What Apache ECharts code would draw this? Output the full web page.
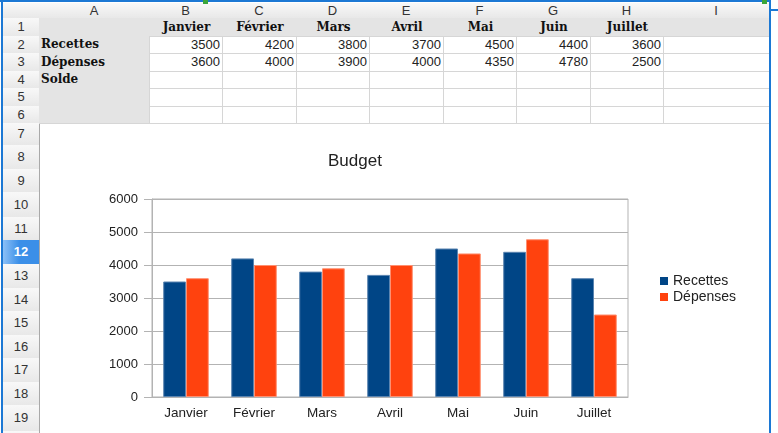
<!DOCTYPE html>
<html>
<head>
<meta charset="utf-8">
<title>Budget</title>
<script src="https://cdn.jsdelivr.net/npm/echarts@6/dist/echarts.min.js"></script>
<style>
  body { margin: 0; background: #fff; }
  #sheet { position: relative; width: 778px; height: 433px; overflow: hidden; font-family: "Liberation Sans", Arial, sans-serif; background: #fff; }
  .c { position: absolute; box-sizing: border-box; border-right: 1px solid #d6d6d6; border-bottom: 1px solid #d6d6d6;
       font-size: 13px; color: #222; white-space: nowrap; overflow: hidden; }
  .hd { background: linear-gradient(#f8f8f8, #e8e8e8); border-right-color: #a9a9a9; border-bottom-color: #a9a9a9; text-align: center; color: #333; }
  .gray { background: #e4e4e4; }
  .lbl { font-family: "DejaVu Serif", serif; font-weight: bold; font-size: 12px; color: #111; padding-left: 2px; }
  .num { text-align: right; padding-right: 2px; }
  .sel { background: linear-gradient(90deg, #8cc0f6, #3b8fe8 45%); color: #fff; font-weight: bold; }
  #chart { position: absolute; left: 40px; top: 124px; width: 729px; height: 309px; background: #fff; }
  .blue { position: absolute; background: #1c78d4; }
</style>
</head>
<body>
<div id="sheet">
  <div id="chart"></div>
</div>
<script>
// données du tableau
const colLetters = ['A', 'B', 'C', 'D', 'E', 'F', 'G', 'H', 'I'];
const months = ['Janvier', 'Février', 'Mars', 'Avril', 'Mai', 'Juin', 'Juillet'];
const recettes = [3500, 4200, 3800, 3700, 4500, 4400, 3600];
const depenses = [3600, 4000, 3900, 4000, 4350, 4780, 2500];
const rowLabels = ['', 'Recettes', 'Dépenses', 'Solde', '', ''];

// géométrie de la feuille (bords des colonnes / lignes en px)
const colX = [3, 39, 149, 222, 296, 369, 443, 516, 590, 663, 769];
const rowY = [3, 18, 36, 53, 71, 88, 106, 123, 145, 169, 192, 217, 240, 264, 288, 311, 335, 358, 382, 405, 431, 455];
const selectedRow = 12;

const sheet = document.getElementById('sheet');
const chartEl = document.getElementById('chart');

function cell(x0, y0, x1, y1, cls, text) {
  const d = document.createElement('div');
  d.className = 'c ' + cls;
  d.style.left = x0 + 'px'; d.style.top = y0 + 'px';
  d.style.width = (x1 - x0 + 1) + 'px'; d.style.height = (y1 - y0 + 1) + 'px';
  d.style.lineHeight = (y1 - y0) + 'px';
  if (text !== undefined) d.textContent = text;
  sheet.insertBefore(d, chartEl);
  return d;
}

// en-têtes de colonnes
cell(colX[0], rowY[0], colX[1], rowY[1], 'hd', '');
colLetters.forEach((l, i) => cell(colX[i + 1], rowY[0], colX[i + 2], rowY[1], 'hd', l));

// numéros de lignes
for (let r = 1; r < rowY.length - 1; r++) {
  cell(colX[0], rowY[r], colX[1], rowY[r + 1], 'hd' + (r === selectedRow ? ' sel' : ''), String(r));
}

// ligne 1 : mois
cell(colX[1], rowY[1], colX[2], rowY[2], 'gray', '');
months.forEach((m, i) => {
  const d = cell(colX[i + 2], rowY[1], colX[i + 3], rowY[2], 'gray lbl', m);
  d.style.textAlign = 'center';
});
cell(colX[9], rowY[1], colX[10], rowY[2], 'gray', '');

// lignes 2..6
for (let r = 2; r <= 6; r++) {
  cell(colX[1], rowY[r], colX[2], rowY[r + 1], 'gray lbl', rowLabels[r - 1]);
  for (let c = 0; c < 8; c++) {
    let v = '';
    if (r === 2 && c < 7) v = recettes[c];
    if (r === 3 && c < 7) v = depenses[c];
    cell(colX[c + 2], rowY[r], colX[c + 3], rowY[r + 1], 'num', v === '' ? '' : String(v));
  }
}

// cadre bleu de sélection
[[0, 0, 769, 2], [1, 0, 2, 433], [769, 0, 2, 433], [769, 9, 9, 2]].forEach(([x, y, w, h]) => {
  const b = document.createElement('div');
  b.className = 'blue';
  Object.assign(b.style, { left: x + 'px', top: y + 'px', width: w + 'px', height: h + 'px' });
  sheet.appendChild(b);
});
[[203, 0], [762, 0]].forEach(([x, y]) => {
  const g = document.createElement('div');
  Object.assign(g.style, { position: 'absolute', left: x + 'px', top: y + 'px', width: '5px', height: '4px', background: '#3aa63a' });
  sheet.appendChild(g);
});

// graphique
const chart = echarts.init(chartEl);
const axisGray = '#b3b3b3';
chart.setOption({
  animation: false,
  textStyle: { fontFamily: '"Liberation Sans", Arial, sans-serif' },
  title: {
    text: 'Budget', left: 283, top: 24,
    textStyle: { fontSize: 17, fontWeight: 'normal', color: '#222' }
  },
  legend: {
    orient: 'vertical', left: 615, top: 145, itemWidth: 8, itemHeight: 8, itemGap: 2, itemTextGap: 4,
    icon: 'rect', data: ['Recettes', 'Dépenses'],
    itemStyle: { borderWidth: 0 },
    textStyle: { fontSize: 14, color: '#222' }
  },
  grid: { left: 112, top: 75, width: 476, height: 198, show: true, borderColor: axisGray, borderWidth: 1 },
  xAxis: {
    type: 'category', data: months,
    axisLine: { lineStyle: { color: axisGray } },
    axisTick: { length: 5, lineStyle: { color: axisGray } },
    axisLabel: { fontSize: 13.5, color: '#222', margin: 9 }
  },
  yAxis: {
    type: 'value', min: 0, max: 6000, interval: 1000,
    axisLine: { show: true, lineStyle: { color: axisGray } },
    axisTick: { show: true, length: 8, lineStyle: { color: axisGray } },
    splitLine: { lineStyle: { color: axisGray } },
    axisLabel: { fontSize: 13, color: '#222', margin: 14, formatter: v => String(v) }
  },
  series: [
    { name: 'Recettes', type: 'bar', data: recettes, barGap: '0%', barCategoryGap: '33%',
      itemStyle: { color: '#004586', borderColor: '#5a84b0', borderWidth: 1 } },
    { name: 'Dépenses', type: 'bar', data: depenses,
      itemStyle: { color: '#ff420e', borderColor: '#ff8f70', borderWidth: 1 } }
  ]
});
</script>
</body>
</html>
